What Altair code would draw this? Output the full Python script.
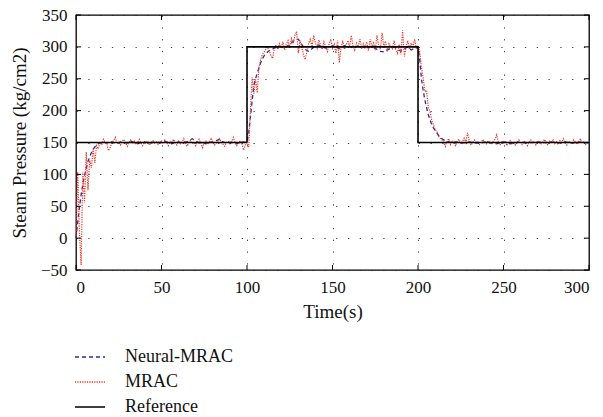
import altair as alt
import pandas as pd

# ---- data ----
mrac_t = list(range(0, 301))
mrac_v = [
    0, 104, 10, -42, 104, 55, 135, 75, 122, 110,            # 0-9
    140, 118, 145, 140, 150, 146, 155, 150, 148, 137,       # 10-19
    142, 150, 153, 158, 148, 150, 146, 152, 155, 149,       # 20-29
    144, 150, 154, 148, 152, 147, 150, 155, 149, 145,       # 30-39
    150, 148, 152, 146, 150, 153, 149, 151, 147, 150,       # 40-49
    152, 148, 154, 150, 145, 151, 149, 155, 150, 146,       # 50-59
    152, 148, 150, 156, 149, 144, 151, 153, 148, 150,       # 60-69
    145, 151, 155, 149, 142, 150, 152, 147, 151, 157,       # 70-79
    150, 146, 149, 153, 156, 150, 147, 144, 150, 152,       # 80-89
    148, 151, 158, 150, 145, 149, 153, 148, 138, 146,       # 90-99
    150, 143, 200, 252, 226, 250, 228, 268, 280, 288,       # 100-109
    292, 296, 300, 294, 286, 282, 298, 303, 296, 305,       # 110-119
    299, 308, 295, 304, 310, 300, 313, 305, 318, 324,       # 120-129
    290, 310, 300, 288, 280, 292, 305, 312, 300, 318,       # 130-139
    306, 298, 311, 303, 296, 308, 300, 293, 305, 312,       # 140-149
    298, 304, 290, 310, 275, 300, 308, 296, 303, 310,       # 150-159
    299, 318, 302, 295, 306, 300, 312, 297, 305, 299,       # 160-169
    308, 294, 312, 300, 306, 295, 318, 302, 296, 322,       # 170-179
    300, 309, 293, 305, 300, 297, 310, 296, 290, 304,       # 180-189
    288, 326, 285, 300, 310, 296, 306, 300, 312, 298,       # 190-199
    302, 292, 268, 252, 230, 232, 205, 200, 185, 178,       # 200-209
    170, 168, 160, 157, 154, 150, 144, 152, 156, 147,       # 210-219
    153, 149, 145, 152, 155, 148, 151, 157, 150, 165,       # 220-229
    152, 146, 150, 154, 149, 152, 147, 151, 155, 150,       # 230-239
    148, 153, 150, 147, 152, 155, 162, 150, 146, 151,       # 240-249
    148, 152, 145, 150, 153, 148, 151, 146, 150, 154,       # 250-259
    149, 147, 152, 150, 145, 151, 154, 149, 152, 146,       # 260-269
    150, 153, 148, 151, 155, 149, 146, 152, 150, 154,       # 270-279
    148, 151, 147, 153, 150, 156, 149, 146, 152, 150,       # 280-289
    148, 154, 151, 147, 150, 156, 149, 152, 147, 151,       # 290-299
    150,                                                    # 300
]

neural_t = (list(range(0, 21)) + list(range(22, 100, 2)) + list(range(100, 121))
            + list(range(122, 200, 2)) + list(range(200, 221)) + list(range(222, 301, 2)))
neural_v = [
    0, 25, 48, 68, 85, 98, 110, 120, 128, 134, 139, 143, 146, 148, 149, 150, 151, 150, 149, 150, 151,
    150, 148, 151, 150, 149, 152, 150, 148, 150, 151, 150, 149, 151, 150, 150, 152, 150, 148, 150,
    151, 149, 150, 153, 156, 152, 149, 150, 148, 150, 151, 153, 155, 151, 149, 150, 150, 148, 150, 151,
    150, 165, 190, 215, 240, 250, 259, 267, 275, 281, 286, 289, 292, 294, 296, 297, 298, 299, 300, 301, 300,
    298, 302, 306, 311, 312, 304, 296, 293, 297, 301, 303, 300, 298, 299, 302, 300, 297, 300, 303,
    301, 298, 300, 302, 300, 297, 301, 299, 296, 293, 292, 295, 298, 300, 296, 293, 297, 300, 295, 298,
    300, 280, 250, 232, 217, 205, 194, 186, 178, 173, 169, 165, 161, 158, 156, 154, 153, 152, 151, 150, 150,
    151, 150, 149, 150, 151, 150, 149, 150, 150, 151, 150, 149, 148, 150, 151, 150, 148, 149, 150, 151,
    150, 149, 150, 150, 151, 149, 150, 150, 151, 150, 149, 150, 151, 150, 149, 150, 151, 150, 150, 149,
]

ref_t = [0, 100, 200, 300]
ref_v = [150, 300, 150, 150]

x_ticks = [0, 50, 100, 150, 200, 250, 300]
y_ticks = [-50, 0, 50, 100, 150, 200, 250, 300, 350]

series = ["Neural-MRAC", "MRAC", "Reference"]
colors = ["#2b2b9c", "#ee3524", "#000000"]
dashes = [[4, 3], [1.2, 1.2], [1, 0]]

df = pd.concat([
    pd.DataFrame({"t": neural_t, "v": neural_v, "series": "Neural-MRAC"}),
    pd.DataFrame({"t": mrac_t, "v": mrac_v, "series": "MRAC"}),
    pd.DataFrame({"t": ref_t, "v": ref_v, "series": "Reference"}),
])

FONT = "Liberation Serif"
W, H = 513, 255

xscale = alt.Scale(domain=[0, 300], nice=False)
yscale = alt.Scale(domain=[-50, 350], nice=False)

grid_kw = dict(grid=True, ticks=False, domain=False, gridColor="#222", gridDash=[1.3, 10.5],
               gridWidth=1, gridOpacity=0.85, labelFont=FONT, titleFont=FONT, labelFontSize=17,
               titleFontSize=19, labelColor="#111", titleColor="#111", titleFontWeight="normal")
xaxis = alt.Axis(title="Time(s)", values=x_ticks, labelPadding=9, titlePadding=7, **grid_kw)
yaxis = alt.Axis(title="Steam Pressure (kg/cm2)", values=y_ticks, labelPadding=9, titlePadding=11, **grid_kw)

base = alt.Chart(df).encode(
    x=alt.X("t:Q", scale=xscale, axis=xaxis),
    y=alt.Y("v:Q", scale=yscale, axis=yaxis),
    color=alt.Color("series:N", scale=alt.Scale(domain=series, range=colors),
                    legend=alt.Legend(title=None, orient="none", legendX=-2, legendY=326,
                                      symbolType="stroke", symbolSize=900, symbolStrokeWidth=1.6,
                                      labelFont=FONT, labelFontSize=18, labelColor="#111",
                                      rowPadding=-9, labelOffset=19)),
    strokeDash=alt.StrokeDash("series:N", scale=alt.Scale(domain=series, range=dashes), legend=None),
)

neural = base.transform_filter(alt.datum.series == "Neural-MRAC").mark_line(strokeWidth=1.3)
mrac = base.transform_filter(alt.datum.series == "MRAC").mark_line(strokeWidth=1.2)
ref = base.transform_filter(alt.datum.series == "Reference").mark_line(strokeWidth=1.6, interpolate="step-after")

xt = pd.DataFrame({"t": x_ticks})
yt = pd.DataFrame({"v": y_ticks})
tick_bot = alt.Chart(xt).mark_rule(color="black").encode(x=alt.X("t:Q", scale=xscale, axis=xaxis), y=alt.value(H), y2=alt.value(H - 5))
tick_top = alt.Chart(xt).mark_rule(color="black").encode(x=alt.X("t:Q", scale=xscale, axis=xaxis), y=alt.value(0), y2=alt.value(5))
tick_left = alt.Chart(yt).mark_rule(color="black").encode(y=alt.Y("v:Q", scale=yscale, axis=yaxis), x=alt.value(0), x2=alt.value(5))
tick_right = alt.Chart(yt).mark_rule(color="black").encode(y=alt.Y("v:Q", scale=yscale, axis=yaxis), x=alt.value(W), x2=alt.value(W - 5))

chart = alt.layer(neural, mrac, ref, tick_bot, tick_top, tick_left, tick_right).properties(
    width=W, height=H,
    background="white",
    autosize=alt.AutoSizeParams(type="none"),
    padding={"left": 68, "top": 7, "right": 6, "bottom": 146},
).configure_view(
    stroke="black", strokeWidth=1.3
)

chart.save("out.html", embed_options={"renderer": "svg", "actions": False})
